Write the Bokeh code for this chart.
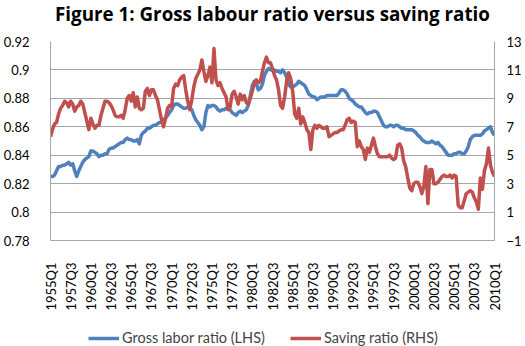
import math
from bokeh.plotting import figure
from bokeh.layouts import column
from bokeh.models import Range1d, LinearAxis, FixedTicker, Legend, LegendItem, ColumnDataSource, Label
from bokeh.embed import file_html
from bokeh.resources import INLINE

# Quarterly categories 1955Q1 .. 2010Q1
quarters = [f"{y}Q{q}" for y in range(1955, 2011) for q in (1, 2, 3, 4)][:221]

# Gross labor ratio (LHS)
gross_labor = [
    0.825, 0.825, 0.826, 0.829, 0.832, 0.832, 0.833, 0.833, 0.834, 0.835,
    0.833, 0.834, 0.829, 0.825, 0.829, 0.832, 0.835, 0.837, 0.838, 0.839,
    0.843, 0.843, 0.842, 0.841, 0.839, 0.840, 0.840, 0.841, 0.841, 0.844,
    0.845, 0.845, 0.846, 0.847, 0.848, 0.849, 0.849, 0.851, 0.852, 0.851,
    0.851, 0.850, 0.850, 0.851, 0.848, 0.854, 0.856, 0.857, 0.859, 0.859,
    0.860, 0.861, 0.861, 0.862, 0.863, 0.863, 0.865, 0.866, 0.868, 0.870,
    0.872, 0.875, 0.876, 0.876, 0.875, 0.874, 0.873, 0.873, 0.874, 0.873,
    0.872, 0.868, 0.865, 0.863, 0.861, 0.858, 0.860, 0.870, 0.875, 0.874,
    0.875, 0.875, 0.874, 0.872, 0.871, 0.872, 0.872, 0.873, 0.873, 0.872,
    0.870, 0.869, 0.868, 0.870, 0.871, 0.870, 0.871, 0.872, 0.875, 0.882,
    0.889, 0.892, 0.890, 0.886, 0.887, 0.890, 0.896, 0.899, 0.901, 0.900,
    0.900, 0.900, 0.899, 0.899, 0.898, 0.900, 0.898, 0.895, 0.890, 0.888,
    0.888, 0.889, 0.890, 0.892, 0.891, 0.890, 0.889, 0.886, 0.883, 0.882,
    0.881, 0.881, 0.879, 0.880, 0.881, 0.881, 0.881, 0.882, 0.882, 0.882,
    0.882, 0.882, 0.882, 0.884, 0.886, 0.886, 0.885, 0.883, 0.880, 0.879,
    0.878, 0.876, 0.875, 0.874, 0.874, 0.872, 0.870, 0.869, 0.870, 0.870,
    0.871, 0.871, 0.870, 0.867, 0.864, 0.861, 0.860, 0.860, 0.861, 0.861,
    0.860, 0.861, 0.861, 0.860, 0.859, 0.859, 0.858, 0.858, 0.858, 0.858,
    0.857, 0.856, 0.854, 0.853, 0.851, 0.850, 0.849, 0.849, 0.849, 0.850,
    0.849, 0.848, 0.849, 0.847, 0.846, 0.844, 0.842, 0.840, 0.840, 0.840,
    0.841, 0.841, 0.842, 0.842, 0.841, 0.841, 0.843, 0.846, 0.851, 0.853,
    0.854, 0.854, 0.854, 0.854, 0.855, 0.857, 0.858, 0.859, 0.860, 0.856,
    0.854,
]

# Saving ratio (RHS)
saving = [
    6.3, 6.8, 7.2, 7.3, 7.9, 8.3, 8.5, 8.8, 8.7, 8.4,
    8.8, 8.6, 8.1, 8.4, 8.5, 8.8, 8.6, 8.0, 7.4, 6.8,
    7.6, 7.2, 6.9, 7.1, 7.1, 7.8, 8.3, 8.8, 8.8, 8.7,
    8.5, 8.2, 7.8, 7.7, 7.7, 7.8, 7.6, 8.2, 9.0, 9.2,
    8.8, 9.4, 8.4, 9.1, 8.3, 8.2, 8.3, 9.5, 9.7, 9.2,
    9.6, 9.6, 9.2, 8.9, 8.2, 7.5, 7.0, 7.6, 8.3, 8.5,
    8.4, 9.7, 10.0, 9.9, 10.3, 10.5, 10.6, 9.6, 8.8, 8.2,
    8.9, 9.8, 10.4, 10.7, 11.0, 11.7, 10.9, 10.2, 10.6, 11.2,
    10.1, 12.5, 10.3, 9.9, 10.1, 9.7, 9.4, 9.1, 8.2, 8.4,
    9.3, 9.5, 9.1, 8.6, 9.3, 8.9, 9.2, 8.7, 8.6, 9.0,
    9.5, 10.1, 10.3, 10.1, 10.2, 10.9, 11.5, 11.9, 11.5, 11.5,
    11.1, 10.6, 10.3, 9.6, 8.5, 8.3, 9.1, 10.2, 10.8, 10.4,
    9.5, 7.9, 7.6, 8.3, 7.2, 7.7, 7.3, 6.8, 6.6, 5.4,
    6.8, 7.1, 6.9, 7.1, 7.0, 6.9, 6.9, 7.0, 6.3, 6.4,
    6.5, 6.6, 6.6, 6.7, 6.8, 6.8, 7.1, 7.5, 7.6, 7.3,
    7.4, 7.3, 5.6, 6.0, 5.6, 5.4, 4.7, 5.5, 5.2, 5.7,
    6.2, 5.6, 5.1, 4.9, 4.9, 4.9, 4.9, 4.9, 5.0, 4.8,
    4.7, 4.8, 5.7, 5.8, 5.5, 4.6, 4.2, 3.4, 2.7, 2.5,
    3.0, 3.1, 3.1, 2.8, 2.3, 2.8, 4.2, 1.6, 4.0, 4.0,
    3.0, 3.0, 3.1, 3.3, 3.5, 3.6, 3.5, 3.5, 3.6, 3.4,
    3.6, 3.5, 1.5, 1.3, 1.3, 1.8, 2.3, 2.4, 2.5, 2.4,
    2.0, 1.7, 1.2, 3.4, 2.6, 3.9, 4.4, 5.5, 4.3, 3.8,
    3.5,
]

title_text = "Figure 1: Gross labour ratio versus saving ratio"
lhs_ticks = [0.78, 0.8, 0.82, 0.84, 0.86, 0.88, 0.9, 0.92]
lhs_labels = ["0.78", "0.8", "0.82", "0.84", "0.86", "0.88", "0.9", "0.92"]
rhs_ticks = [-1, 1, 3, 5, 7, 9, 11, 13]
x_tick_step = 10
series_names = ["Gross labor ratio (LHS)", "Saving ratio (RHS)"]

FONT = "Lato"
GRID = "#a6a6a6"
BLUE = "#4F81BD"
RED = "#C0504D"
LW = 3.5


def strip(h):
    f = figure(width=525, height=h, output_backend="svg", toolbar_location=None, title=None,
               x_range=Range1d(0, 1), y_range=Range1d(0, 1),
               x_axis_location=None, y_axis_location=None,
               min_border_left=0, min_border_right=0, min_border_top=0, min_border_bottom=0)
    f.outline_line_color = None
    f.grid.visible = False
    f.background_fill_color = "white"
    f.border_fill_color = "white"
    return f


# title strip
t = strip(27)
t.add_layout(Label(x=0.5, y=0.5, text=title_text, text_align="center", text_baseline="middle",
                   text_font="Open Sans", text_font_size="18.8px", text_font_style="bold",
                   text_color="#000000"))

idx = list(range(len(quarters)))
src = ColumnDataSource(dict(x=idx, q=quarters, gl=gross_labor, sr=saving))

p = figure(width=525, height=293, output_backend="svg", toolbar_location=None, title=None,
           x_range=Range1d(0, len(quarters) - 1), y_range=Range1d(lhs_ticks[0], lhs_ticks[-1]),
           min_border_left=41, min_border_right=31, min_border_top=14, min_border_bottom=80)
p.extra_y_ranges = {"rhs": Range1d(rhs_ticks[0], rhs_ticks[-1])}

p.outline_line_color = None
p.background_fill_color = None
p.border_fill_color = "white"
p.xgrid.visible = False
p.ygrid.grid_line_color = GRID
p.ygrid.grid_line_width = 1
p.ygrid.ticker = FixedTicker(ticks=lhs_ticks)

# x axis
xa = p.xaxis[0]
xt = list(range(0, len(quarters), x_tick_step))
xa.ticker = FixedTicker(ticks=xt)
xa.major_label_overrides = {t_: quarters[t_] for t_ in xt}
xa.major_label_orientation = math.pi / 2
xa.axis_line_color = GRID
xa.major_tick_line_color = None
xa.minor_tick_line_color = None
xa.major_label_standoff = 16
xa.major_label_text_font = FONT
xa.major_label_text_font_size = "13px"
xa.major_label_text_color = "#000000"

# left axis
ya = p.yaxis[0]
ya.ticker = FixedTicker(ticks=lhs_ticks)
ya.major_label_overrides = dict(zip(lhs_ticks, lhs_labels))
ya.axis_line_color = GRID
ya.major_tick_line_color = None
ya.minor_tick_line_color = None
ya.major_label_standoff = 15
ya.major_label_text_font = FONT
ya.major_label_text_font_size = "13px"
ya.major_label_text_color = "#000000"

# right axis
ra = LinearAxis(y_range_name="rhs", ticker=FixedTicker(ticks=rhs_ticks))
ra.axis_line_color = GRID
ra.major_tick_line_color = None
ra.minor_tick_line_color = None
ra.major_label_standoff = 6
ra.major_label_text_font = FONT
ra.major_label_text_font_size = "13px"
ra.major_label_text_color = "#000000"
p.add_layout(ra, "right")

p.line("x", "gl", source=src, line_color=BLUE, line_width=LW, line_join="round")
p.line("x", "sr", source=src, y_range_name="rhs", line_color=RED, line_width=LW, line_join="round")

# legend strip below the chart (series renderers kept hidden; they only feed the legend keys)
q = strip(26)
l1 = q.line("x", "gl", source=src, line_color=BLUE, line_width=LW, visible=False)
l2 = q.line("x", "sr", source=src, line_color=RED, line_width=LW, visible=False)
legend = Legend(items=[LegendItem(label=series_names[0], renderers=[l1]),
                       LegendItem(label=series_names[1], renderers=[l2])],
                orientation="horizontal", location=(38, 0), click_policy="none",
                border_line_color=None, background_fill_alpha=0,
                label_text_font=FONT, label_text_font_size="14.5px",
                glyph_width=31, glyph_height=16, label_height=16,
                spacing=25, padding=0, margin=0,
                label_standoff=3)
q.add_layout(legend, "center")

layout = column(t, p, q, spacing=0)
open("out.html", "w").write(file_html(layout, INLINE))
